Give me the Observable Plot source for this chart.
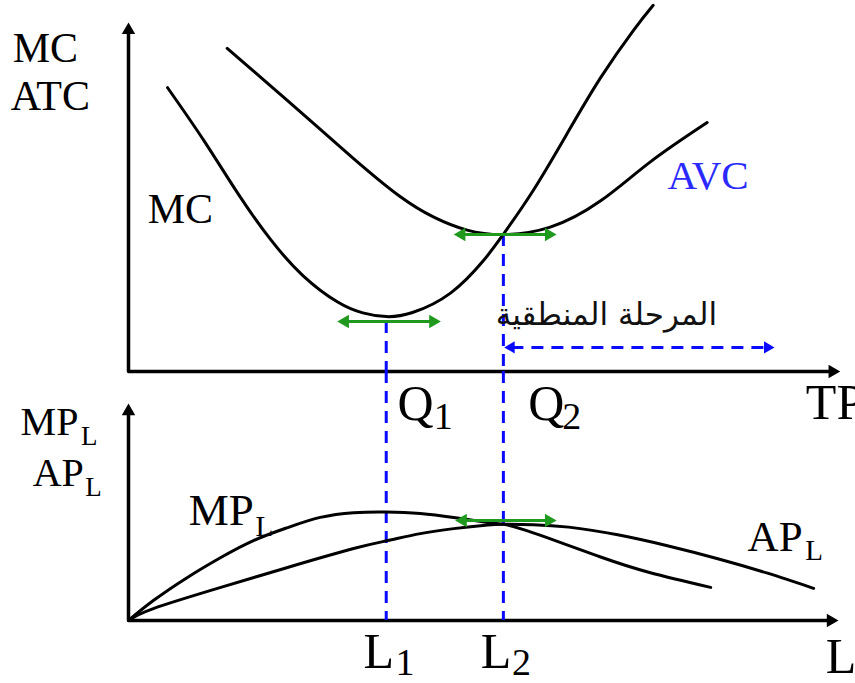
<!DOCTYPE html>
<html><head><meta charset="utf-8">
<script src="https://cdn.jsdelivr.net/npm/d3@7"></script>
<script src="https://cdn.jsdelivr.net/npm/@observablehq/plot@0.6"></script>
<style>
html,body{margin:0;padding:0;background:#fff;}
#chart{position:relative;width:855px;height:683px;overflow:hidden;background:#fff;}
#chart svg{position:absolute;left:0;top:0;background:transparent !important;overflow:visible !important;}
</style></head><body><div id="chart"></div>
<script>
// ---- Top panel: cost curves (x = output TP, y = cost) ----
const mcQ    = [5.5, 10.6, 15.4, 20.0, 24.6, 29.4, 33.0, 36.3, 40.0, 45.4, 50.0, 52.8, 57.0, 61.8, 66.5, 71.1, 73.9];
const mcCost = [76.5, 62.3, 48.0, 35.6, 25.8, 18.8, 15.8, 14.8, 15.9, 21.2, 29.9, 37.0, 48.8, 64.2, 79.2, 91.9, 98.7];
const avcQ    = [13.9, 22.4, 31.7, 38.3, 43.0, 47.7, 52.8, 59.4, 66.5, 73.5, 81.5];
const avcCost = [87.1, 73.0, 57.4, 47.1, 41.6, 38.1, 36.9, 38.9, 46.0, 56.5, 67.1];
// ---- Bottom panel: product curves (x = labour L, y = product) ----
const mpL   = [0, 3.5, 8.3, 13.0, 17.6, 22.4, 27.0, 31.7, 36.3, 41.1, 45.8, 50.6, 52.8, 57.0, 66.5, 73.5, 82.0];
const mpVal = [0, 8.0, 17.3, 25.3, 32.1, 37.3, 41.4, 43.3, 43.6, 43.0, 41.4, 39.4, 38.6, 35.2, 25.5, 19.2, 13.3];
const apL   = [0, 3.5, 13.0, 22.4, 31.7, 36.5, 41.1, 45.8, 50.6, 52.8, 57.0, 62.0, 68.9, 75.9, 83.0, 90.0, 96.5];
const apVal = [0, 4.8, 13.3, 21.3, 28.9, 32.1, 34.9, 36.9, 38.4, 38.7, 38.5, 37.5, 34.4, 30.0, 24.8, 19.0, 12.9];
// key points
const Q1 = 36.3, Q2 = 52.8;          // L1 and L2 share the same positions
const mcMinArrow = 13.5, avcMinArrow = 36.9, apMaxArrow = 40.2;
const stageY = 6.5, stageEnd = 90.0;
// labels
const stageLabel = "المرحلة المنطقية";

const BLUE = "#0a0aff", GREEN = "#1f9a1f";
const serif = "Liberation Serif, Times New Roman, serif";
const dash = "12,8";

const toPts = (xs, ys) => xs.map((x, i) => ({x, y: ys[i]}));

function txt(s, x, y, size, extra = {}) {
  return Plot.text([s], {x: () => x, y: () => y, text: d => d, fontSize: size, fontFamily: serif,
    textAnchor: "start", lineAnchor: "bottom", fill: "black", ...extra});
}
function axisMarks(yTop, xEnd) {
  return [
    Plot.line([{x: 0, y: yTop}, {x: 0, y: 0}, {x: xEnd, y: 0}], {x: "x", y: "y", stroke: "black", strokeWidth: 3.5}),
    Plot.dot([{x: 0, y: yTop}], {x: "x", y: "y", symbol: "triangle", r: 5, fill: "black", rotate: 0}),
    Plot.dot([{x: xEnd, y: 0}], {x: "x", y: "y", symbol: "triangle", r: 5, fill: "black", rotate: 90})
  ];
}
function twoWayArrow(x1, x2, y, color) {
  return [
    Plot.ruleY([y], {x1: x1, x2: x2, stroke: color, strokeWidth: 3}),
    Plot.dot([{x: x1, y}], {x: "x", y: "y", symbol: "triangle", r: 5, fill: color, rotate: -90}),
    Plot.dot([{x: x2, y}], {x: "x", y: "y", symbol: "triangle", r: 5, fill: color, rotate: 90})
  ];
}

const common = {width: 855, height: 683, marginLeft: 128, marginRight: 17,
  x: {domain: [0, 100], axis: null}, style: {background: "transparent", overflow: "visible"}};

const topPanel = Plot.plot({
  ...common, marginTop: 0, marginBottom: 312,
  y: {domain: [0, 100], axis: null},
  marks: [
    ...axisMarks(92.0, 99.15),
    Plot.ruleX([Q1], {y1: mcMinArrow, y2: 0, stroke: BLUE, strokeWidth: 3, strokeDasharray: dash}),
    Plot.ruleX([Q2], {y1: avcMinArrow, y2: 0, stroke: BLUE, strokeWidth: 3, strokeDasharray: dash}),
    Plot.line(toPts(mcQ, mcCost), {x: "x", y: "y", curve: "natural", stroke: "black", strokeWidth: 3}),
    Plot.line(toPts(avcQ, avcCost), {x: "x", y: "y", curve: "natural", stroke: "black", strokeWidth: 3}),
    ...twoWayArrow(30.5, 42.9, mcMinArrow, GREEN),
    ...twoWayArrow(46.9, 59.2, avcMinArrow, GREEN),
    // logical stage dashed arrow
    Plot.ruleY([stageY], {x1: Q2 + 1.2, x2: stageEnd, stroke: BLUE, strokeWidth: 3, strokeDasharray: dash}),
    Plot.dot([{x: Q2 + 1.1, y: stageY}], {x: "x", y: "y", symbol: "triangle", r: 4.5, fill: BLUE, rotate: -90}),
    Plot.dot([{x: stageEnd, y: stageY}], {x: "x", y: "y", symbol: "triangle", r: 4.5, fill: BLUE, rotate: 90}),
    Plot.text([stageLabel], {x: () => 67.3, y: () => 12.6, text: d => d, fontSize: 31, fontFamily: "DejaVu Sans",
      textAnchor: "middle", lineAnchor: "bottom", fill: "#111"}),
    // labels
    txt("MC", -16.3, 83.3, 42),
    txt("ATC", -16.6, 70.4, 42),
    txt("MC", 2.7, 39.9, 42),
    txt("AVC", 75.9, 49.3, 41, {fill: "#2a2aff"}),
    txt("Q", 37.9, -13.2, 50), txt("1", 43.0, -15.4, 38),
    txt("Q", 56.3, -13.2, 50), txt("2", 61.1, -15.4, 38),
    txt("TP", 95.4, -12.7, 50)
  ]
});

const bottomPanel = Plot.plot({
  ...common, marginTop: 371, marginBottom: 63,
  y: {domain: [0, 100], axis: null},
  marks: [
    ...axisMarks(84.0, 98.9),
    Plot.ruleX([Q1, Q2], {stroke: BLUE, strokeWidth: 3, strokeDasharray: dash}),
    Plot.line(toPts(mpL, mpVal), {x: "x", y: "y", curve: "natural", stroke: "black", strokeWidth: 3}),
    Plot.line(toPts(apL, apVal), {x: "x", y: "y", curve: "natural", stroke: "black", strokeWidth: 3}),
    ...twoWayArrow(47.1, 59.2, apMaxArrow, GREEN),
    txt("MP", -15.2, 74.3, 40), txt("L", -6.7, 70.3, 27),
    txt("AP", -13.5, 54.2, 40), txt("L", -6.1, 50.2, 27),
    txt("MP", 8.5, 38.2, 45), txt("L", 17.9, 34.1, 29),
    txt("AP", 87.2, 28.1, 43), txt("L", 95.3, 24.1, 29),
    txt("L", 33.1, -18.9, 50), txt("1", 37.6, -21.7, 38),
    txt("L", 49.6, -18.9, 50), txt("2", 54.0, -21.7, 38),
    txt("L", 98.2, -21.0, 50)
  ]
});

const host = document.getElementById("chart");
host.appendChild(topPanel);
host.appendChild(bottomPanel);
</script>
</body></html>
